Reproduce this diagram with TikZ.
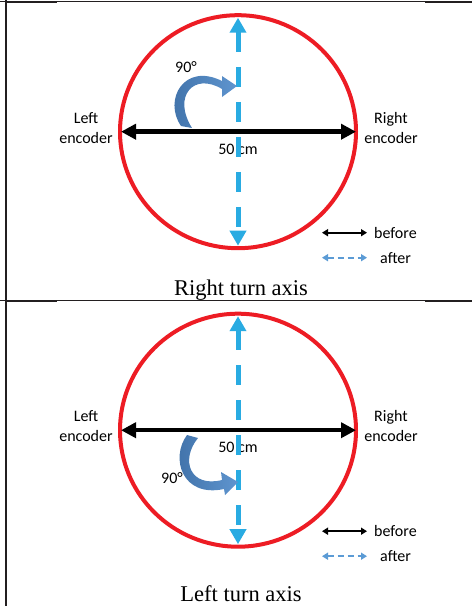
\documentclass[tikz,border=0pt]{standalone}
\usepackage{fontspec}
\setmainfont{Liberation Serif}
\newfontfamily\encfont{Carlito}
\usetikzlibrary{arrows.meta,positioning,calc}
\definecolor{rim}{HTML}{ED1C24}
\definecolor{axisblue}{HTML}{29ABE2}
\definecolor{legblue}{HTML}{5B9BD5}
\definecolor{turndark}{HTML}{3E6FA6}
\definecolor{turnlight}{HTML}{5F95CF}
\definecolor{tablerule}{HTML}{231F20}

\begin{document}
\begin{tikzpicture}[x=1pt,y=-1pt,
  lab/.style={font=\encfont\fontsize{16}{20}\selectfont,align=center,inner sep=0pt},
  ttl/.style={font=\fontsize{22.5}{24}\selectfont,inner sep=0pt,anchor=base},
  wheelbase/.style={line width=4.5pt,{Triangle[length=15pt,width=15pt]}-{Triangle[length=15pt,width=15pt]}},
  newaxis/.style={axisblue,line width=5pt,dash pattern=on 20pt off 15pt,{Triangle[length=15pt,width=16pt]}-{Triangle[length=15pt,width=16pt]}},
  turnarrow/.style={left color=turndark,right color=turnlight,draw=none},
  legblack/.style={line width=1.8pt,{Triangle[length=6pt,width=7pt]}-{Triangle[length=6pt,width=7pt]}},
  legdash/.style={legblue,line width=2pt,dash pattern=on 6pt off 4pt,{Triangle[length=6pt,width=7pt]}-{Triangle[length=6pt,width=7pt]}}]
  \useasboundingbox (0,0) rectangle (472,606);
  \draw[tablerule,line width=1.8pt] (6,0) -- (6,606);
  \foreach \ry in {1,300.7} {
    \draw[tablerule,line width=1pt] (0,\ry) -- (472,\ry);
    \draw[tablerule,line width=2pt] (6,\ry+0.5) -- (57,\ry+0.5);
    \draw[tablerule,line width=2pt] (425,\ry+0.5) -- (472,\ry+0.5);
  }
  \foreach \cy/\ty/\ttl in {131.7/295/Right turn axis,430.2/601/Left turn axis} {
    \coordinate (c) at (238,\cy);
    \coordinate (w) at (121,\cy);
    \coordinate (e) at (356,\cy);
    \coordinate (n) at (238,\cy-114);
    \coordinate (s) at (238,\cy+114);
    \draw[rim,line width=4pt] (c) ellipse [x radius=118pt,y radius=116.5pt];
    \node[lab] (lenc) at (86,\cy-4) {Left\\encoder};
    \node[lab] (renc) at (391,\cy-4) {Right\\encoder};
    \node[lab] (dist) at (238,\cy+17.5) {50 cm};
    \draw[wheelbase] (w) -- (e);
    \draw[newaxis] (n) -- (s);
    \coordinate (b1) at (322,\cy+101);
    \coordinate (b2) at (367,\cy+101);
    \coordinate (a1) at (322,\cy+126);
    \coordinate (a2) at (367,\cy+126);
    \draw[legblack] (b1) -- (b2);
    \draw[legdash] (a1) -- (a2);
    \node[lab,anchor=west] (bef) at (374,\cy+101) {before};
    \node[lab,anchor=west] (aft) at (380,\cy+126) {after};
    \node[ttl] (cap) at (241,\ty) {\ttl};
  }
  \shade[turnarrow] (181,126) .. controls (163,100) and (184,62) .. (222,81)
    -- (222,76) -- (237,86) -- (222,97) -- (222,89)
    .. controls (194,72) and (172,96) .. (192,128) -- cycle;
  \node[lab] (deg1) at (186,67) {90°};
  \shade[turnarrow] (187,435) .. controls (170,458) and (182,498) .. (224,489)
    -- (225,495) -- (238,482) -- (221,472) -- (222,480)
    .. controls (190,488) and (180,460) .. (198,438) -- cycle;
  \node[lab] (deg2) at (172,478) {90°};
\end{tikzpicture}
\end{document}
